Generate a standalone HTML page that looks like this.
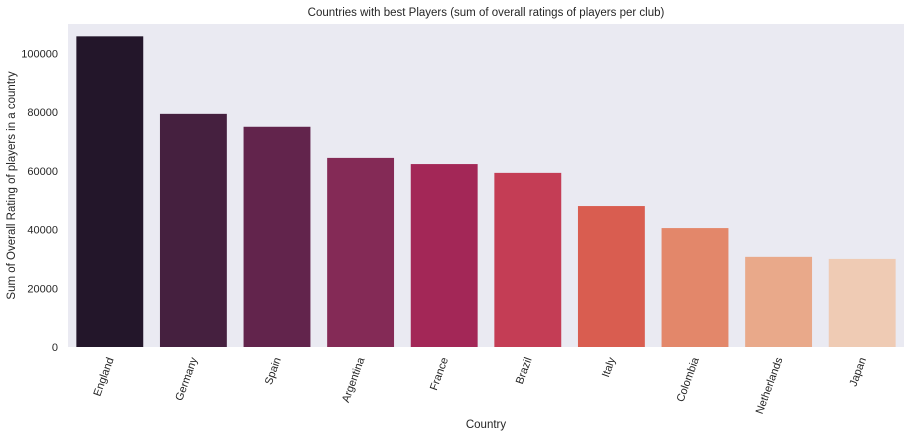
<!DOCTYPE html>
<html><head><meta charset="utf-8"><style>
body{margin:0;background:#fff;font-family:"Liberation Sans",sans-serif}
svg text{font-family:"Liberation Sans",sans-serif;fill:#262626}
</style></head><body>
<svg id="c" width="917" height="437"></svg>
<script>
const categories=["England","Germany","Spain","Argentina","France","Brazil","Italy","Colombia","Netherlands","Japan"];
const values=[105800,79400,75000,64400,62300,59300,48000,40500,30700,30000];
const colors=["#23162a","#45203f","#62244c","#842a56","#a32757","#c43d55","#d95d50","#e3876a","#e9a98a","#efcbb4"];
const yTicks=[0,20000,40000,60000,80000,100000];
const ns="http://www.w3.org/2000/svg",svg=document.getElementById('c');
const L=68,R=904,T=24,B=347,yMax=110000;
const y=v=>B-(v/yMax)*(B-T);
const step=(R-L)/categories.length;
const x=i=>L+step*(i+0.5);
function mk(t,a,p){const e=document.createElementNS(ns,t);for(const k in a)e.setAttribute(k,a[k]);(p||svg).appendChild(e);return e;}
const bg=mk('rect',{x:L,y:T,width:R-L,height:B-T,fill:'#eaeaf2'});


yTicks.forEach(t=>{const e=mk('text',{x:L-10,y:y(t)+4,'text-anchor':'end','font-size':11});e.textContent=t;

});
categories.forEach((c,i)=>{
const w=step*0.8;
const r=mk('rect',{x:x(i)-w/2,y:y(values[i]),width:w,height:B-y(values[i]),fill:colors[i]});


const t=mk('text',{x:0,y:0,'text-anchor':'end','font-size':11,transform:`translate(${x(i)+4},${B+12}) rotate(-70)`});
t.textContent=c;


});
const ti=mk('text',{x:(L+R)/2,y:16,'text-anchor':'middle','font-size':11.5});ti.textContent='Countries with best Players (sum of overall ratings of players per club)';


const xt=mk('text',{x:(L+R)/2,y:428,'text-anchor':'middle','font-size':11.5});xt.textContent='Country';


const yt=mk('text',{x:0,y:0,'text-anchor':'middle','font-size':11.5,transform:`translate(15,${(T+B)/2}) rotate(-90)`});yt.textContent='Sum of Overall Rating of players in a country';


</script>
</body></html>
